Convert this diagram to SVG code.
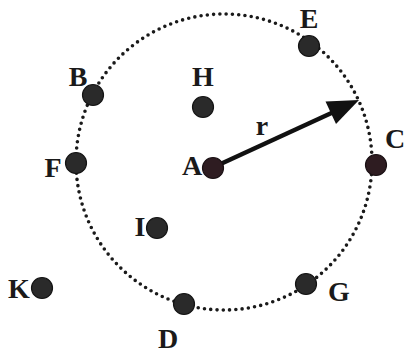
<svg xmlns="http://www.w3.org/2000/svg" width="404" height="353" viewBox="0 0 404 353">
<style>
.dot{fill:#2a2a2a;stroke:#141414;stroke-width:1.2}
.dotr{fill:#2e1c21;stroke:#1a1014;stroke-width:1.2}
.lbl{font-family:"Liberation Serif","Times New Roman",serif;font-weight:bold;font-size:28px;fill:#1a1a1a}
</style>
<rect width="404" height="353" fill="#fff"/>
<g id="connectors">
<circle cx="224" cy="162" r="148" fill="none" stroke="#1a1a1a" stroke-width="3.6" stroke-linecap="round" stroke-dasharray="0 6.3"/>
<line x1="214" y1="167" x2="338" y2="110" stroke="#111" stroke-width="4.5"/>
<polygon points="359,100 325.5,101.5 336,124" fill="#111"/>
</g>
<g id="node-A"><circle class="dotr" cx="213" cy="168" r="10.5"/><text class="lbl" x="192" y="175" text-anchor="middle">A</text></g>
<g id="node-B"><circle class="dot" cx="93" cy="95" r="10.5"/><text class="lbl" x="78" y="86" text-anchor="middle">B</text></g>
<g id="node-C"><circle class="dotr" cx="376" cy="165" r="10.5"/><text class="lbl" x="395" y="148" text-anchor="middle">C</text></g>
<g id="node-D"><circle class="dot" cx="184" cy="304" r="10.5"/><text class="lbl" x="168" y="348" text-anchor="middle">D</text></g>
<g id="node-E"><circle class="dot" cx="309" cy="46" r="10.5"/><text class="lbl" x="309" y="28" text-anchor="middle">E</text></g>
<g id="node-F"><circle class="dot" cx="76" cy="163" r="10.5"/><text class="lbl" x="53" y="177" text-anchor="middle">F</text></g>
<g id="node-G"><circle class="dot" cx="306" cy="284" r="10.5"/><text class="lbl" x="339" y="301" text-anchor="middle">G</text></g>
<g id="node-H"><circle class="dot" cx="203" cy="107" r="10.5"/><text class="lbl" x="203" y="86" text-anchor="middle">H</text></g>
<g id="node-I"><circle class="dot" cx="157" cy="228" r="10.5"/><text class="lbl" x="140" y="236" text-anchor="middle">I</text></g>
<g id="node-K"><circle class="dot" cx="42" cy="288" r="10.5"/><text class="lbl" x="19" y="298" text-anchor="middle">K</text></g>
<g id="label-r"><text class="lbl" x="262" y="135" text-anchor="middle">r</text></g>
</svg>
